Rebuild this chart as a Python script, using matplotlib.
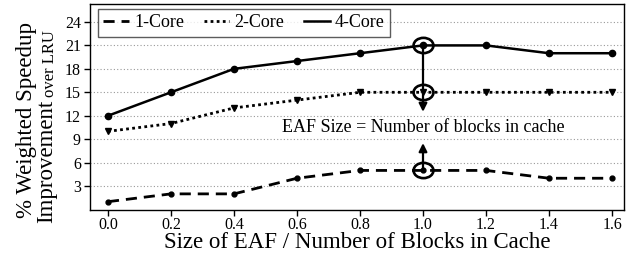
import matplotlib
matplotlib.use("Agg")
import matplotlib.pyplot as plt
from matplotlib.markers import MarkerStyle
from matplotlib.transforms import Affine2D

x_vals = [0.0, 0.2, 0.4, 0.6, 0.8, 1.0, 1.2, 1.4, 1.6]
core1 = [1, 2, 2, 4, 5, 5, 5, 4, 4]
core2 = [10, 11, 13, 14, 15, 15, 15, 15, 15]
core4 = [12, 15, 18, 19, 20, 21, 21, 20, 20]
y_ticks = [3, 6, 9, 12, 15, 18, 21, 24]
x_ticks = [0.0, 0.2, 0.4, 0.6, 0.8, 1.0, 1.2, 1.4, 1.6]
highlight_x = 1.0

plt.rcParams['font.family'] = ['Liberation Serif', 'DejaVu Serif']

fig = plt.figure(figsize=(6.27, 2.54), dpi=100)
ax = fig.add_axes([90/627, 1 - 209.5/254, (624-90)/627, (209.5-4)/254])

ax.plot(x_vals, core1, linestyle=(0, (4, 2.5)), color='black', lw=2.0,
        marker='o', markersize=3.5, label='1-Core')
ax.plot(x_vals, core2, linestyle=(0, (1, 1.2)), color='black', lw=2.0,
        marker='v', markersize=4.5, label='2-Core')
ax.plot(x_vals, core4, linestyle='-', color='black', lw=1.8,
        marker='o', markersize=4.5, label='4-Core')

# highlighted points
ell = MarkerStyle('o', transform=Affine2D().scale(1.3, 1.0))
hi = x_vals.index(highlight_x)
for s in (core1, core2, core4):
    ax.plot([highlight_x], [s[hi]], linestyle='none', marker=ell,
            markersize=11, markerfacecolor='none', markeredgecolor='black',
            markeredgewidth=1.9)

# arrows
ax.annotate('', xy=(highlight_x, 12.5), xytext=(highlight_x, core4[hi]),
            arrowprops=dict(arrowstyle='-|>', color='black', lw=1.6,
                            mutation_scale=12, shrinkA=0, shrinkB=0))
ax.annotate('', xy=(highlight_x, 8.5), xytext=(highlight_x, core1[hi]),
            arrowprops=dict(arrowstyle='-|>', color='black', lw=1.6,
                            mutation_scale=12, shrinkA=0, shrinkB=0))
ax.text(highlight_x, 10.5, 'EAF Size = Number of blocks in cache',
        ha='center', va='center', fontsize=13)

ax.set_xlim(-0.057, 1.638)
ax.set_ylim(0, 26.3)
ax.set_yticks(y_ticks)
ax.set_yticklabels([str(v) for v in y_ticks])
ax.set_xticks(x_ticks)
ax.set_xticklabels([f'{v:.1f}' for v in x_ticks])
ax.tick_params(labelsize=11.5, length=4, width=1, colors='black', pad=2.5)
ax.tick_params(axis='x', pad=1.5)
ax.yaxis.grid(True, linestyle=(0, (1, 2)), color='#999999', lw=0.8)
ax.set_axisbelow(True)
for sp in ax.spines.values():
    sp.set_linewidth(1.0)

fig.text(357/627, 1 - 248/254, 'Size of EAF / Number of Blocks in Cache',
         ha='center', va='baseline', fontsize=16.5)

fig.text(27/627, 1 - 120/254, '% Weighted Speedup', rotation=90,
         ha='center', va='center', fontsize=16.5)
fig.text(47/627, 1 - 223/254, 'Improvement', rotation=90,
         ha='center', va='bottom', fontsize=16.5)
fig.text(50/627, 1 - 97/254, 'over LRU', rotation=90,
         ha='center', va='bottom', fontsize=12)

leg = ax.legend(loc='upper left', ncol=3, fontsize=13, frameon=True,
                fancybox=False, edgecolor='#333333', handlelength=1.4,
                columnspacing=1.1, handletextpad=0.3, borderpad=0.3,
                borderaxespad=0, bbox_to_anchor=(8/534, 1 - 5/205.5))
leg.get_frame().set_linewidth(1.0)
for h in leg.legend_handles:
    h.set_marker('')

fig.savefig('out.png', dpi=100)
